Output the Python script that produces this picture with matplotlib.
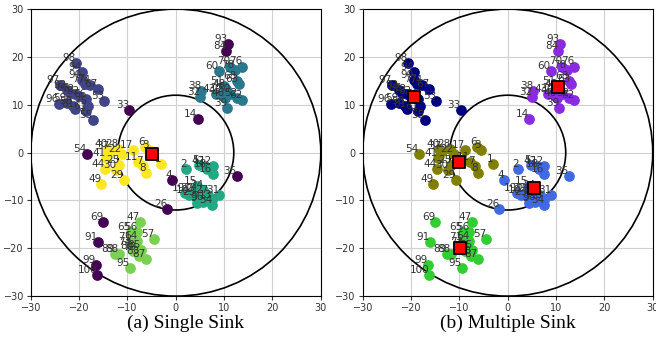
import numpy as np
import matplotlib.pyplot as plt
from matplotlib.patches import Circle

# sensor nodes, grouped by cluster (ids and coordinates)
tl_ids = [98, 94, 90, 77, 74, 67, 53, 97, 92, 86, 72, 82, 66, 96, 59, 58, 81, 75, 61, 55]
tl_x = [-20.7, -19.5, -19.5, -18.8, -17.7, -16.2, -14.8, -24.0, -22.6, -21.9,
        -20.9, -20.0, -18.5, -24.2, -22.6, -21.3, -20.9, -18.2, -18.5, -17.2]
tl_y = [18.7, 16.8, 15.2, 14.4, 14.1, 13.3, 10.8, 14.2, 13.1, 12.5,
        12.2, 11.9, 11.2, 10.1, 10.4, 9.7, 9.1, 9.7, 8.7, 6.8]

tr_ids = [60, 70, 78, 76, 68, 63, 51, 48, 43, 38, 32, 50, 52, 62, 46, 45, 39]
tr_x = [8.9, 11.2, 12.2, 13.8, 12.6, 13.0, 9.9, 10.3, 8.3, 5.3, 5.0, 11.2, 12.7, 13.8, 10.1, 9.5, 10.6]
tr_y = [17.1, 18.0, 17.3, 18.0, 15.0, 14.3, 14.0, 13.3, 12.3, 12.9, 11.7, 12.2, 11.5, 11.1, 11.4, 12.1, 9.3]

rt_ids = [2, 5, 42, 12, 16, 18, 15, 24, 19, 10, 20, 23, 21, 27, 31, 36, 34, 13, 9]
rt_x = [2.2, 4.8, 6.0, 7.6, 7.6, 6.4, 4.3, 5.7, 1.9, 2.8, 3.6, 4.1, 4.6, 6.7, 9.0, 5.7, 7.5, 7.4, 4.3]
rt_y = [-3.4, -2.5, -2.7, -2.9, -4.4, -3.4, -6.9, -7.8, -8.5, -8.8,
        -8.5, -9.2, -8.6, -8.8, -8.8, -10.4, -10.9, -9.9, -10.5]

bt_ids = [47, 56, 65, 64, 71, 57, 73, 80, 79, 89, 88, 83, 87, 95, 85]
bt_x = [-7.5, -8.0, -9.3, -8.0, -9.3, -4.5, -9.2, -8.8, -8.1, -12.6, -11.8, -7.6, -6.2, -9.5, -7.3]
bt_y = [-14.5, -16.6, -16.6, -18.5, -18.7, -18.1, -19.7, -20.6, -20.8, -21.1, -21.3, -21.6, -22.3, -24.1, -20.3]

lf_ids = [17, 6, 3, 1, 11, 7, 8, 40, 28, 37, 22, 41, 25, 44, 30, 29, 49]
lf_x = [-8.8, -6.3, -5.5, -3.0, -7.8, -6.8, -6.1, -14.2, -11.9, -13.7, -11.2, -14.5, -11.7, -14.7, -12.3, -10.8, -15.4]
lf_y = [0.6, 1.2, 0.6, -2.3, -2.0, -2.9, -4.3, 0.8, 0.8, 0.3, -0.3, -1.1, -2.5, -3.4, -3.6, -5.7, -6.5]

# nodes left unclustered in the single sink case
out_ids = [54, 33, 14, 93, 84, 4, 26, 35, 69, 91, 99, 100]
out_x = [-18.4, -9.7, 4.5, 10.8, 10.4, -0.7, -1.8, 12.6, -15.0, -16.1, -16.6, -16.3]
out_y = [-0.2, 8.9, 7.1, 22.7, 21.3, -5.7, -11.8, -4.8, -14.6, -18.7, -23.6, -25.5]
# cluster each of them joins with multiple sinks (0 tl, 1 tr, 2 rt, 3 bt, 4 lf)
out_group = [4, 0, 1, 1, 1, 2, 2, 2, 3, 3, 3, 3]

single_sink = (-5.0, -0.3)
sink_x = [-19.3, 10.4, 5.4, -9.9, -10.1]
sink_y = [11.6, 13.7, -7.5, -19.9, -2.0]

groups = [(tl_ids, tl_x, tl_y), (tr_ids, tr_x, tr_y), (rt_ids, rt_x, rt_y),
          (bt_ids, bt_x, bt_y), (lf_ids, lf_x, lf_y)]
viridis = plt.get_cmap('viridis')
left_colors = [viridis(v) for v in (0.2, 0.4, 0.6, 0.8, 1.0)]
right_colors = ['navy', 'blueviolet', 'royalblue', 'limegreen', 'olive']

fig = plt.figure(figsize=(6.56, 3.5), dpi=100)
ax1 = fig.add_axes([0.047, 0.154, 0.442, 0.82])
ax2 = fig.add_axes([0.553, 0.154, 0.442, 0.82])


def base(ax):
    ax.set_xlim(-30, 30)
    ax.set_ylim(-30, 30)
    ax.set_xticks(range(-30, 31, 10))
    ax.set_yticks(range(-30, 31, 10))
    ax.tick_params(labelsize=7, length=3, pad=2, colors='#333333')
    ax.grid(True, color='#d0d0d0', lw=0.8)
    ax.set_axisbelow(True)
    for r in (12, 30):
        ax.add_patch(Circle((0, 0), r, fill=False, ec='black', lw=1.2, zorder=3))


def labels(ax, ids, xs, ys):
    for i, x, y in zip(ids, xs, ys):
        ax.text(x, y, str(i), fontsize=7.5, color='#333333', ha='right', va='bottom', zorder=5)


# (a) single sink
base(ax1)
for (ids, xs, ys), c in zip(groups, left_colors):
    ax1.scatter(xs, ys, s=45, color=c, zorder=4)
    labels(ax1, ids, xs, ys)
ax1.scatter(out_x, out_y, s=45, color=viridis(0.0), zorder=4)
labels(ax1, out_ids, out_x, out_y)
ax1.scatter([single_sink[0]], [single_sink[1]], marker='s', s=75, color='red',
            edgecolor='black', lw=1.3, zorder=6)

# (b) multiple sink
base(ax2)
for (ids, xs, ys), c in zip(groups, right_colors):
    ax2.scatter(xs, ys, s=45, color=c, zorder=4)
    labels(ax2, ids, xs, ys)
for i, x, y, g in zip(out_ids, out_x, out_y, out_group):
    ax2.scatter([x], [y], s=45, color=right_colors[g], zorder=4)
labels(ax2, out_ids, out_x, out_y)
ax2.scatter(sink_x, sink_y, marker='s', s=75, color='red', edgecolor='black', lw=1.3, zorder=6)

fig.text(0.283, 0.075, '(a) Single Sink', ha='center', va='center',
         family='Liberation Serif', fontsize=14)
fig.text(0.774, 0.075, '(b) Multiple Sink', ha='center', va='center',
         family='Liberation Serif', fontsize=14)

fig.savefig('out.png', dpi=100)
